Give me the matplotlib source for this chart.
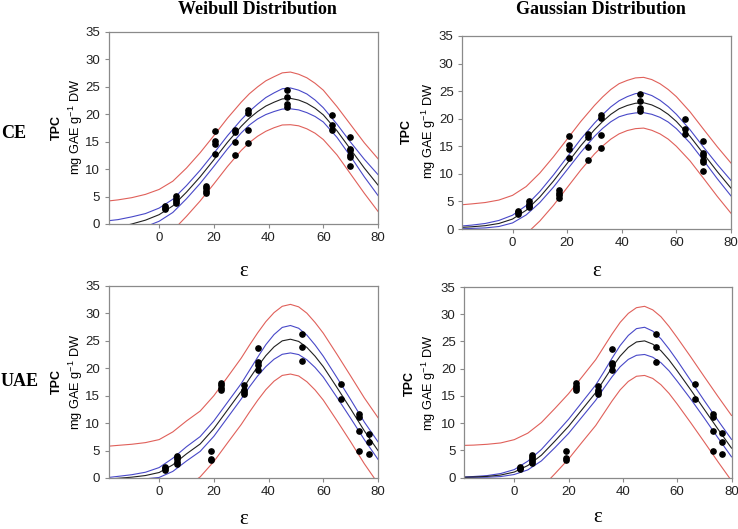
import matplotlib
matplotlib.use("Agg")
import matplotlib.pyplot as plt
import numpy as np

plt.rcParams['font.family'] = ['Liberation Sans', 'DejaVu Sans']
plt.rcParams['mathtext.fontset'] = 'custom'
plt.rcParams['mathtext.rm'] = 'Liberation Sans'
plt.rcParams['mathtext.it'] = 'Liberation Sans'

# --- measured data (epsilon vs TPC) ---
ce_eps = [2, 2, 2, 6, 6, 6, 6, 17, 17, 17, 17, 20.6, 20.6, 20.6, 20.6,
          27.6, 27.6, 27.6, 27.6, 32.4, 32.4, 32.4, 32.4, 46.8, 46.8, 46.8, 46.8,
          63.2, 63.2, 63.2, 69.8, 69.8, 69.8, 69.8, 69.8, 69.8]
ce_tpc = [2.7, 3.0, 3.2, 3.9, 4.2, 4.6, 5.1, 5.6, 6.1, 6.6, 7.0, 12.8, 14.5, 15.2, 16.9,
          12.6, 14.9, 16.7, 17.2, 14.7, 17.1, 20.2, 20.7, 21.4, 21.9, 23.2, 24.5,
          17.2, 18.1, 19.9, 10.6, 12.2, 12.6, 13.4, 13.7, 15.9]

uae_eps = [2.3, 2.3, 2.3, 6.6, 6.6, 6.6, 6.6, 6.6, 19.1, 19.1, 19.1, 22.7, 22.7, 22.7, 22.7,
           31, 31, 31, 31, 36.1, 36.1, 36.1, 36.1, 52.2, 52.2, 52.2, 66.5, 66.5,
           73.2, 73.2, 73.2, 73.2, 76.6, 76.6, 76.6]
uae_tpc = [1.5, 1.8, 2.0, 2.6, 3.0, 3.4, 3.8, 4.1, 3.3, 3.5, 4.9, 16.0, 16.4, 16.9, 17.4,
           15.3, 15.7, 16.1, 16.9, 19.7, 20.6, 21.1, 23.7, 21.3, 23.9, 26.3, 14.4, 17.2,
           4.9, 8.5, 11.1, 11.7, 4.4, 6.5, 8.1]

# --- fitted curves: fit line, confidence and prediction half-widths ---
eps_grid = [-18.5, -15, -10, -5, 0, 5, 10, 15, 20, 25, 30, 33, 36, 39, 42, 45, 48,
            51, 54, 57, 60, 65, 70, 75, 80]

ce_weib_fit = [-0.9, -0.6, 0.0, 0.7, 1.7, 3.3, 5.8, 8.6, 11.7, 14.9, 17.8, 19.3, 20.5, 21.5, 22.2,
               22.8, 22.9, 22.6, 22.0, 21.1, 19.9, 17.0, 13.6, 10.2, 7.1]
ce_weib_conf = [1.5, 1.4, 1.3, 1.2, 1.2, 1.2, 1.2, 1.2, 1.2, 1.2, 1.2, 1.25, 1.35, 1.55, 1.7,
                1.85, 1.9, 1.8, 1.7, 1.5, 1.3, 1.2, 1.3, 1.6, 1.9]
ce_weib_pred = [5.1, 5.0, 4.8, 4.7, 4.6, 4.5, 4.4, 4.4, 4.4, 4.4, 4.4, 4.45, 4.5, 4.6, 4.65,
                4.75, 4.8, 4.7, 4.65, 4.55, 4.5, 4.4, 4.5, 4.6, 4.8]

ce_gaus_fit = [0.3, 0.4, 0.6, 1.0, 1.8, 3.4, 5.8, 8.7, 11.9, 15.1, 18.0, 19.5, 20.8, 21.8, 22.4,
               22.8, 22.9, 22.5, 21.8, 20.8, 19.5, 16.8, 13.6, 10.4, 7.4]
ce_gaus_conf = [0.25, 0.3, 0.4, 0.55, 0.7, 0.85, 1.0, 1.1, 1.15, 1.2, 1.2, 1.25, 1.35, 1.45, 1.6,
                1.75, 1.8, 1.7, 1.55, 1.4, 1.3, 1.2, 1.2, 1.3, 1.4]
ce_gaus_pred = [4.1, 4.15, 4.2, 4.25, 4.3, 4.3, 4.35, 4.4, 4.4, 4.4, 4.4, 4.45, 4.5, 4.55, 4.55,
                4.6, 4.6, 4.6, 4.55, 4.5, 4.5, 4.45, 4.45, 4.5, 4.55]

uae_weib_fit = [-0.2, -0.05, 0.15, 0.45, 1.0, 2.4, 4.4, 6.2, 9.0, 12.4, 15.8, 18.1, 20.3, 22.3, 23.9,
                25.0, 25.3, 24.9, 23.8, 22.2, 20.3, 16.5, 12.6, 8.6, 5.0]
uae_weib_conf = [0.3, 0.35, 0.45, 0.6, 0.9, 1.2, 1.3, 1.35, 1.4, 1.4, 1.4, 1.5, 1.7, 2.0, 2.25,
                 2.45, 2.5, 2.4, 2.25, 2.05, 1.9, 1.8, 1.7, 1.6, 1.6]
uae_weib_pred = [6.0, 6.0, 6.0, 6.0, 6.0, 6.0, 6.0, 6.0, 6.0, 6.0, 6.05, 6.1, 6.15, 6.2, 6.25,
                 6.3, 6.35, 6.3, 6.25, 6.15, 6.1, 6.05, 6.0, 6.0, 6.0]

uae_gaus_fit = [0.05, 0.1, 0.2, 0.45, 1.0, 2.2, 4.1, 6.7, 9.4, 12.5, 15.6, 17.9, 20.2, 22.3, 23.9,
                24.9, 25.1, 24.5, 23.3, 21.6, 19.6, 16.1, 12.5, 8.9, 5.4]
uae_gaus_conf = [0.05, 0.08, 0.15, 0.28, 0.45, 0.8, 1.05, 1.2, 1.3, 1.35, 1.4, 1.5, 1.7, 1.95, 2.2,
                 2.45, 2.5, 2.4, 2.2, 2.0, 1.9, 1.7, 1.6, 1.6, 1.6]
uae_gaus_pred = [5.85, 5.85, 5.9, 5.9, 5.95, 5.95, 6.0, 6.0, 6.0, 6.0, 6.05, 6.1, 6.15, 6.2, 6.25,
                 6.3, 6.35, 6.3, 6.25, 6.15, 6.1, 6.05, 6.0, 6.0, 6.0]

RED = '#e0605a'
BLUE = '#4848c8'
FRAME = '#8a8a8a'


def draw_panel(ax, eps, tpc, fit, conf, pred):
    x = np.array(eps_grid)
    f = np.array(fit)
    c = np.array(conf)
    p = np.array(pred)
    # prediction band (red), confidence band (blue), fitted line (black)
    ax.plot(x, f + p, color=RED, lw=0.8)
    ax.plot(x, f - p, color=RED, lw=0.8)
    ax.plot(x, f + c, color=BLUE, lw=0.8)
    ax.plot(x, f - c, color=BLUE, lw=0.8)
    ax.plot(x, f, color='#202020', lw=0.8)
    ax.plot(eps, tpc, 'o', color='black', ms=3.8, mec='black')

    ax.set_xlim(-18.5, 80)
    ax.set_ylim(0, 35)
    ax.set_xticks([0, 20, 40, 60, 80])
    ax.set_yticks(range(0, 36, 5))
    ax.tick_params(direction='out', length=3, width=0.8, color=FRAME,
                   labelsize=9.5, labelcolor='#222222', pad=3)
    for s in ax.spines.values():
        s.set_color(FRAME)
        s.set_linewidth(0.9)


fig = plt.figure(figsize=(7.38, 5.29), dpi=100)
W, H = 738, 529


def axes_px(left, top, right, bottom):
    return fig.add_axes([left / W, 1 - bottom / H, (right - left) / W, (bottom - top) / H])


ax_tl = axes_px(108.5, 32, 378, 224)
ax_tr = axes_px(462, 36, 731, 229)
ax_bl = axes_px(108.5, 286, 378, 478)
ax_br = axes_px(464, 287, 731.5, 477.5)

draw_panel(ax_tl, ce_eps, ce_tpc, ce_weib_fit, ce_weib_conf, ce_weib_pred)
draw_panel(ax_tr, ce_eps, ce_tpc, ce_gaus_fit, ce_gaus_conf, ce_gaus_pred)
draw_panel(ax_bl, uae_eps, uae_tpc, uae_weib_fit, uae_weib_conf, uae_weib_pred)
draw_panel(ax_br, uae_eps, uae_tpc, uae_gaus_fit, uae_gaus_conf, uae_gaus_pred)

serif = ['Liberation Serif', 'DejaVu Serif']

# column titles and row labels
fig.text(257 / W, 1 - 9 / H, "Weibull Distribution", family=serif, weight='bold',
         fontsize=13, ha='center', va='center')
fig.text(601 / W, 1 - 9 / H, "Gaussian Distribution", family=serif, weight='bold',
         fontsize=13, ha='center', va='center')
fig.text(14 / W, 1 - 133 / H, "CE", family=serif, weight='bold', fontsize=13,
         ha='center', va='center')
fig.text(20 / W, 1 - 381 / H, "UAE", family=serif, weight='bold', fontsize=13,
         ha='center', va='center')

# y labels
for tx, mx, yc in [(57, 76, 127), (407, 429, 131), (57, 76, 382), (410, 429, 383)]:
    fig.text(tx / W, 1 - yc / H, "TPC", weight='bold', fontsize=9, rotation=90,
             ha='center', va='center')
    fig.text(mx / W, 1 - yc / H, "mg GAE g$^{-1}$ DW", fontsize=9.2, rotation=90,
             ha='center', va='center')

# x labels
for xc, yc in [(244, 272), (597, 272), (244, 519), (598, 517)]:
    fig.text(xc / W, 1 - yc / H, "ε", family=serif, fontsize=15, ha='center', va='center')

fig.savefig("out.png", dpi=100)
